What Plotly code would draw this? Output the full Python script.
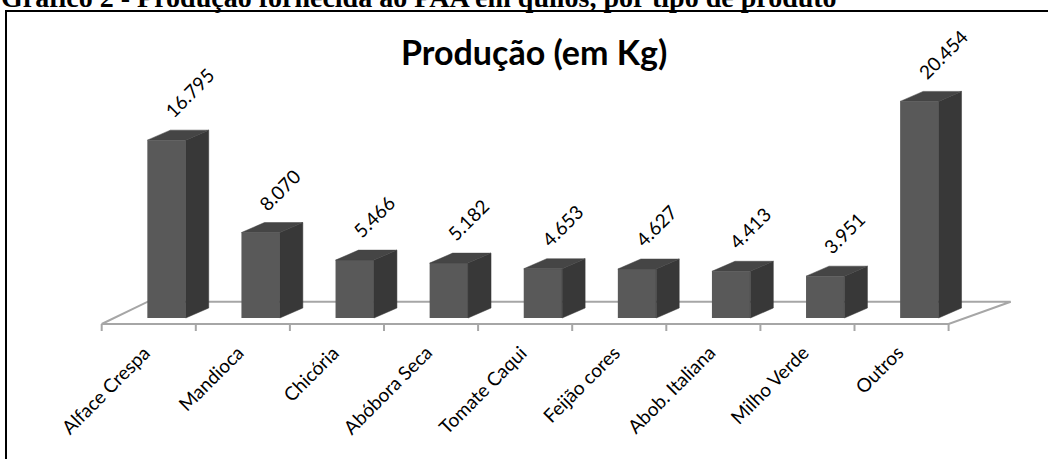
import plotly.graph_objects as go

# ---------------- data ----------------
categories = ["Alface Crespa", "Mandioca", "Chicória", "Abóbora Seca", "Tomate Caqui",
              "Feijão cores", "Abob. Italiana", "Milho Verde", "Outros"]
values = [16795, 8070, 5466, 5182, 4653, 4627, 4413, 3951, 20454]
value_labels = ["16.795", "8.070", "5.466", "5.182", "4.653", "4.627", "4.413", "3.951", "20.454"]
chart_title = "Produção (em Kg)"
header_text = "Gráfico 2 - Produção fornecida ao PAA em quilos, por tipo de produto"

# ---------------- geometry / style ----------------
W, H = 1048, 459
PX_PER_CAT = 94.1      # pixels per category slot
CAT0_PX = 148.75       # pixel x of first category slot centre
ZERO_PX = 318          # pixel y of value 0
KG_PER_PX = 94.43      # value units per pixel

x_range = [-CAT0_PX / PX_PER_CAT, (W - CAT0_PX) / PX_PER_CAT]
y_range = [-(H - ZERO_PX) * KG_PER_PX, ZERO_PX * KG_PER_PX]

BAR_SHIFT = 0.189
BAR_W = 0.408
DEPTH_X = 23 / PX_PER_CAT
DEPTH_Y = 10 * KG_PER_PX

FRONT = "#595959"
SIDE = "#383838"
TOP = "#454545"
FLOOR_LINE = "#a6a6a6"
FONT = "Lato"

n = len(categories)
xs = [i + BAR_SHIFT for i in range(n)]

fig = go.Figure()

# front faces
fig.add_trace(go.Bar(x=xs, y=values, width=BAR_W,
                     marker=dict(color=FRONT, line=dict(width=0)),
                     hoverinfo="skip", showlegend=False))

# side and top faces derived from the values
side_x, side_y, top_x, top_y = [], [], [], []
for xc, v in zip(xs, values):
    xl = xc - BAR_W / 2
    xr_ = xc + BAR_W / 2
    side_x += [xr_, xr_ + DEPTH_X, xr_ + DEPTH_X, xr_, xr_, None]
    side_y += [0, DEPTH_Y, v + DEPTH_Y, v, 0, None]
    top_x += [xl, xl + DEPTH_X, xr_ + DEPTH_X, xr_, xl, None]
    top_y += [v, v + DEPTH_Y, v + DEPTH_Y, v, v, None]

fig.add_trace(go.Scatter(x=side_x, y=side_y, mode="lines", fill="toself",
                         fillcolor=SIDE, line=dict(color=SIDE, width=0.5),
                         hoverinfo="skip", showlegend=False))
fig.add_trace(go.Scatter(x=top_x, y=top_y, mode="lines", fill="toself",
                         fillcolor=TOP, line=dict(color=TOP, width=0.5),
                         hoverinfo="skip", showlegend=False))

# floor (3D base)
front_y = -6 * KG_PER_PX
back_y = 16.3 * KG_PER_PX
fx0, fx1 = -0.5, n - 0.5
floor_path = (f"M {fx0},{front_y} L {fx1},{front_y} L {fx1 + 0.66},{back_y} "
              f"L {fx0 + 0.49},{back_y} Z")
shapes = [dict(type="path", path=floor_path, xref="x", yref="y", layer="below",
               fillcolor="white", line=dict(color=FLOOR_LINE, width=2))]
for k in range(n + 1):
    shapes.append(dict(type="line", xref="x", yref="y", layer="below",
                       x0=k - 0.5, x1=k - 0.5, y0=front_y, y1=front_y - 7 * KG_PER_PX,
                       line=dict(color=FLOOR_LINE, width=2)))
# outer frame
shapes.append(dict(type="rect", xref="paper", yref="paper",
                   x0=6 / W, x1=1.05, y0=-0.05, y1=1 - 11 / H,
                   line=dict(color="black", width=2), fillcolor="rgba(0,0,0,0)"))

annotations = []
# data labels
for xc, v, t in zip(xs, values, value_labels):
    annotations.append(dict(x=xc, y=v + 15 * KG_PER_PX, xref="x", yref="y",
                            text=t, showarrow=False, textangle=-45,
                            xanchor="left", yanchor="bottom", xshift=-9,
                            font=dict(family=FONT, size=19, color="black")))
# category labels
for i, c in enumerate(categories):
    annotations.append(dict(x=i + 0.09, y=-20 * KG_PER_PX, xref="x", yref="y",
                            text=c, showarrow=False, textangle=-45,
                            xanchor="right", yanchor="top",
                            font=dict(family=FONT, size=19, color="black")))
# chart title
annotations.append(dict(x=534 / W, y=1 - 52 / H, xref="paper", yref="paper",
                        text=f"<b>{chart_title}</b>", showarrow=False,
                        xanchor="center", yanchor="middle",
                        font=dict(family=FONT, size=34, color="black")))
# header caption (partially cut at the top, as in the source page)
annotations.append(dict(x=0, y=1 - 15 / H, xref="paper", yref="paper",
                        text=f"<b>{header_text}</b>", showarrow=False,
                        xanchor="left", yanchor="bottom", xshift=-1,
                        font=dict(family="Liberation Serif", size=28, color="black")))

fig.update_layout(
    width=W, height=H,
    margin=dict(l=0, r=0, t=0, b=0),
    paper_bgcolor="white", plot_bgcolor="white",
    xaxis=dict(range=x_range, domain=[0, 1], visible=False, fixedrange=True),
    yaxis=dict(range=y_range, domain=[0, 1], visible=False, fixedrange=True),
    shapes=shapes, annotations=annotations,
    showlegend=False,
)

fig.write_html("out.html")
